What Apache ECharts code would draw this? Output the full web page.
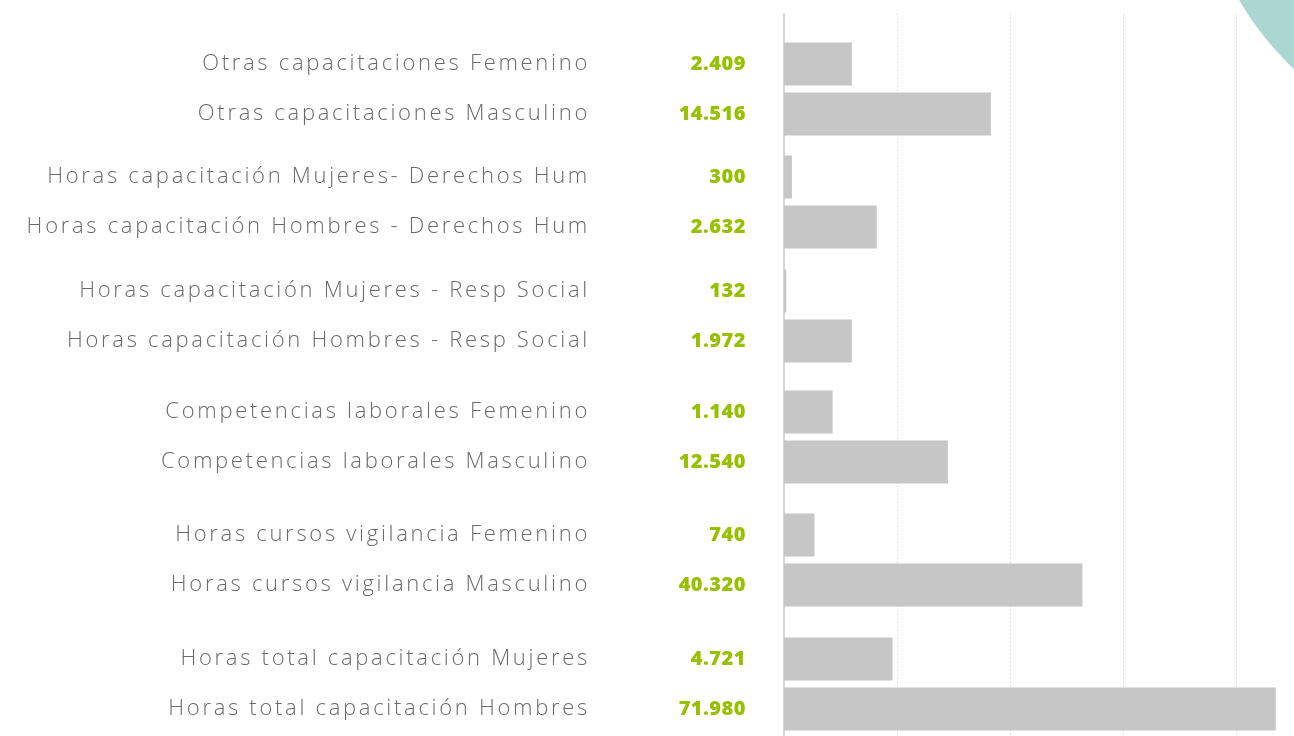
<!DOCTYPE html>
<html>
<head>
<meta charset="utf-8">
<title>Horas de capacitación</title>
<script src="https://cdn.jsdelivr.net/npm/echarts@6/dist/echarts.min.js"></script>
<style>
    html,body{margin:0;padding:0;background:#fff;}
    #chartBox{width:1294px;height:736px;}
</style>
</head>
<body>
<div id="chartBox"></div>
<script>
// etiquetas de cada fila (de arriba a abajo)
const categories = [
    'Otras capacitaciones Femenino',
    'Otras capacitaciones Masculino',
    'Horas capacitación Mujeres- Derechos Hum',
    'Horas capacitación Hombres - Derechos Hum',
    'Horas capacitación Mujeres - Resp Social',
    'Horas capacitación Hombres - Resp Social',
    'Competencias laborales Femenino',
    'Competencias laborales Masculino',
    'Horas cursos vigilancia Femenino',
    'Horas cursos vigilancia Masculino',
    'Horas total capacitación Mujeres',
    'Horas total capacitación Hombres'
];
// horas que muestra la infografia
const hours = [2409, 14516, 300, 2632, 132, 1972, 1140, 12540, 740, 40320, 4721, 71980];
// largo de las barras (no es proporcional a las horas)
const barLengths = [0.60, 1.83, 0.07, 0.82, 0.02, 0.60, 0.43, 1.45, 0.27, 2.64, 0.96, 4.35];
// filas por grupo
const groupSize = 2;

// echarts no tiene letterSpacing: se lo damos al canvas segun el peso de la fuente
(function(){
    const proto = CanvasRenderingContext2D.prototype;
    const fill = proto.fillText, measure = proto.measureText;
    function spacing(ctx){
        if(!('letterSpacing' in ctx)) return;
        ctx.letterSpacing = /\b300\b/.test(ctx.font) ? '2.7px' : (/\b800\b/.test(ctx.font) ? '0.5px' : '0px');
    }
    proto.fillText = function(){ spacing(this); return fill.apply(this, arguments); };
    proto.measureText = function(){ spacing(this); return measure.apply(this, arguments); };
})();

const myChart = echarts.init(document.getElementById('chartBox'));

function fmt(n){
    return String(n).replace(/\B(?=(\d{3})+(?!\d))/g, '.');
}

const AXIS_MAX = 4.6;
const groupTops = [39, 152, 266, 387, 510, 634];

let grid = [{left:784, width:520, top:14, bottom:0, outerBoundsMode:'none'}];
let xAxis = [{
    gridIndex:0, type:'value', min:0, max:AXIS_MAX, interval:1,
    axisLine:{show:false}, axisTick:{show:false}, axisLabel:{show:false},
    splitLine:{show:true, lineStyle:{color:'#c9c9c9', type:[1,3], width:1}}
}];
let yAxis = [{
    gridIndex:0, type:'category', data:[''],
    axisLine:{show:true, lineStyle:{color:'#d7d7d7', width:2}},
    axisTick:{show:false}, axisLabel:{show:false}, splitLine:{show:false}
}];
let series = [];

for(let g = 0; g < categories.length / groupSize; g++){
    const idx = g + 1;
    const from = g * groupSize, to = from + groupSize;
    const vals = hours.slice(from, to);
    grid.push({left:784, width:520, top:groupTops[g], height:50 * groupSize, outerBoundsMode:'none'});
    xAxis.push({
        gridIndex:idx, type:'value', min:0, max:AXIS_MAX, interval:1,
        axisLine:{show:false}, axisTick:{show:false}, axisLabel:{show:false}, splitLine:{show:false}
    });
    yAxis.push({
        gridIndex:idx, type:'category', inverse:true,
        data:categories.slice(from, to),
        axisLine:{show:false}, axisTick:{show:false}, splitLine:{show:false},
        axisLabel:{
            margin:194, color:'#6a6a6a', fontSize:22, fontWeight:300,
            fontFamily:'"Open Sans", sans-serif'
        }
    });
    series.push({
        type:'bar', xAxisIndex:idx, yAxisIndex:idx,
        barWidth:43, silent:true,
        itemStyle:{color:'#c6c6c6'},
        label:{
            show:true, position:[-38, '50%'], align:'right', verticalAlign:'middle',
            color:'#97c000', fontSize:20, fontWeight:800,
            fontFamily:'"Open Sans", sans-serif',
            formatter:function(p){ return fmt(vals[p.dataIndex]); }
        },
        data:barLengths.slice(from, to)
    });
}

const option = {
    animation:false,
    backgroundColor:'#ffffff',
    grid:grid,
    xAxis:xAxis,
    yAxis:yAxis,
    series:series,
    graphic:[{
        type:'circle', z:-1, silent:true,
        shape:{cx:1499, cy:-150, r:300},
        style:{fill:'#acd6d1'}
    }]
};
myChart.setOption(option);
</script>
</body>
</html>
